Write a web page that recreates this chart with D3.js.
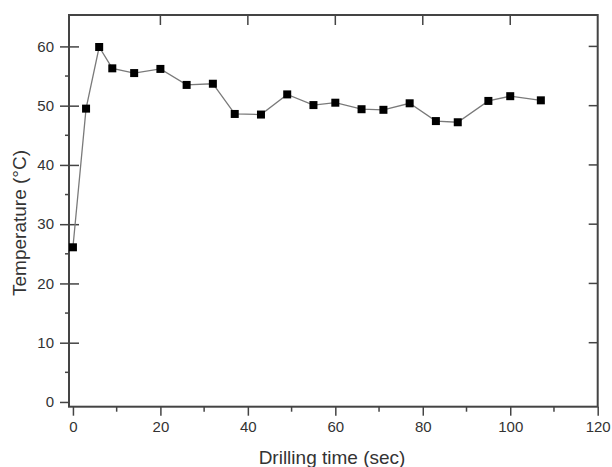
<!DOCTYPE html>
<html>
<head>
<meta charset="utf-8">
<script src="https://cdn.jsdelivr.net/npm/d3@7"></script>
<style>
  body { margin: 0; background: #fff; }
  text { font-family: "Liberation Sans", Arial, sans-serif; fill: #333; }
</style>
</head>
<body>
<div id="chart"></div>
<script>
// Drilling time (sec) and measured temperature (°C)
const times = [0, 3, 6, 9, 14, 20, 26, 32, 37, 43, 49, 55, 60, 66, 71, 77, 83, 88, 95, 100, 107];
const temps = [26.1, 49.5, 59.9, 56.3, 55.5, 56.2, 53.5, 53.7, 48.6, 48.5, 51.9, 50.1, 50.5, 49.4, 49.3, 50.4, 47.4, 47.2, 50.8, 51.6, 50.9];
const xTicks = [0, 20, 40, 60, 80, 100, 120];
const yTicks = [0, 10, 20, 30, 40, 50, 60];

const W = 612, H = 467;
const plotL = 69, plotR = 597.7, plotT = 15, plotB = 406.7;

const svg = d3.select("#chart").append("svg")
    .attr("width", W)
    .attr("height", H);

const x = d3.scaleLinear().domain([-0.9, 120]).range([plotL, plotR]);
const y = d3.scaleLinear().domain([-0.8, 65.3]).range([plotB, plotT]);

const axisColor = "#444";

// bottom axis: major + minor ticks outward
const bottomAxis = svg.append("g").attr("transform", `translate(0,${plotB})`);
bottomAxis.call(d3.axisBottom(x).tickValues(xTicks).tickSize(9).tickPadding(6).tickFormat(d3.format("d")));
bottomAxis.selectAll(".tick line").attr("stroke", axisColor).attr("stroke-width", 1.5);
bottomAxis.selectAll(".tick text").style("font-size", "15px");
bottomAxis.select(".domain").remove();
bottomAxis.selectAll(".minor")
    .data(d3.range(10, 120, 20))
    .enter().append("line")
    .attr("x1", d => x(d)).attr("x2", d => x(d))
    .attr("y1", 0).attr("y2", 5)
    .attr("stroke", axisColor).attr("stroke-width", 1.5);

// left axis: majors cross the line, minors outward
const leftAxis = svg.append("g").attr("transform", `translate(${plotL},0)`);
leftAxis.call(d3.axisLeft(y).tickValues(yTicks).tickSize(9).tickPadding(6).tickFormat(d3.format("d")));
leftAxis.selectAll(".tick line").attr("stroke", axisColor).attr("stroke-width", 1.5)
    .attr("x2", -9)
    .attr("x1", d => d === 0 ? 0 : 10);
leftAxis.selectAll(".tick text").style("font-size", "15px");
leftAxis.select(".domain").remove();
leftAxis.selectAll(".minor")
    .data(d3.range(5, 65, 10))
    .enter().append("line")
    .attr("x1", -4).attr("x2", 0)
    .attr("y1", d => y(d)).attr("y2", d => y(d))
    .attr("stroke", axisColor).attr("stroke-width", 1.5);

// top axis: majors inward
svg.append("g").selectAll("line")
    .data(xTicks.slice(1, -1))
    .enter().append("line")
    .attr("x1", d => x(d)).attr("x2", d => x(d))
    .attr("y1", plotT).attr("y2", plotT + 10)
    .attr("stroke", axisColor).attr("stroke-width", 1.5);

// right axis: majors inward
svg.append("g").selectAll("line")
    .data(yTicks.slice(1))
    .enter().append("line")
    .attr("x1", plotR - 9).attr("x2", plotR)
    .attr("y1", d => y(d)).attr("y2", d => y(d))
    .attr("stroke", axisColor).attr("stroke-width", 1.5);

// frame
svg.append("rect")
    .attr("x", plotL).attr("y", plotT)
    .attr("width", plotR - plotL).attr("height", plotB - plotT)
    .attr("fill", "none")
    .attr("stroke", axisColor)
    .attr("stroke-width", 2);

// series line
const points = times.map((t, i) => ({ t: t, v: temps[i] }));
const line = d3.line().x(d => x(d.t)).y(d => y(d.v));
svg.append("path")
    .datum(points)
    .attr("d", line)
    .attr("fill", "none")
    .attr("stroke", "#7a7a7a")
    .attr("stroke-width", 1.3);

// square markers
const s = 8;
svg.selectAll(".pt")
    .data(points)
    .enter().append("rect")
    .attr("class", "pt")
    .attr("x", d => x(d.t) - s / 2)
    .attr("y", d => y(d.v) - s / 2)
    .attr("width", s).attr("height", s)
    .attr("fill", "#000");

// axis titles
svg.append("text")
    .attr("x", 332).attr("y", 464)
    .attr("text-anchor", "middle")
    .style("font-size", "19px")
    .text("Drilling time (sec)");

svg.append("text")
    .attr("transform", "translate(26,223) rotate(-90)")
    .attr("text-anchor", "middle")
    .style("font-size", "19px")
    .text("Temperature (°C)");
</script>
</body>
</html>
